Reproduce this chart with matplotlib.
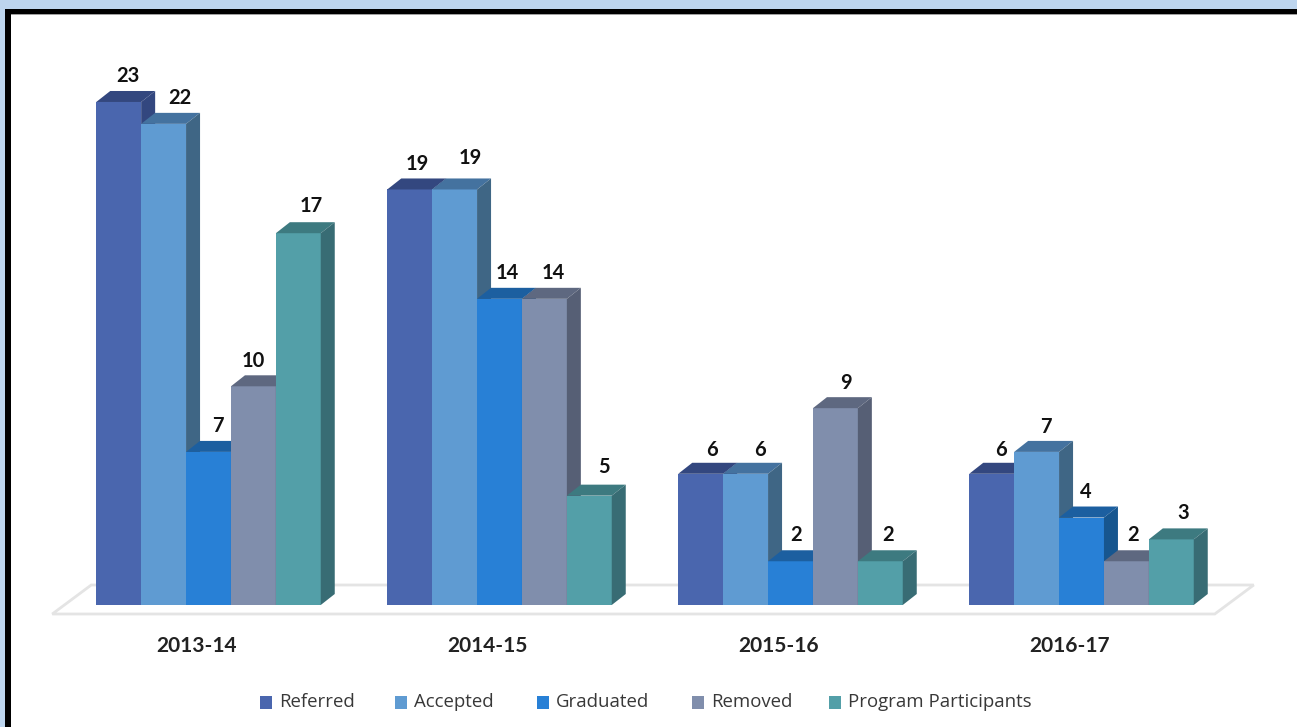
import matplotlib
matplotlib.use('Agg')
import matplotlib.pyplot as plt
from matplotlib.patches import Polygon, Rectangle

# Chart data
years = ['2013-14', '2014-15', '2015-16', '2016-17']
referred = [23, 19, 6, 6]
accepted = [22, 19, 6, 7]
graduated = [7, 14, 2, 4]
removed = [10, 14, 9, 2]
participants = [17, 5, 2, 3]

series_names = ['Referred', 'Accepted', 'Graduated', 'Removed', 'Program Participants']
series_values = [referred, accepted, graduated, removed, participants]

front_colors = ['#4A66AE', '#5F9BD2', '#2880D6', '#808EAC', '#539FA8']
top_colors = ['#33477F', '#44729F', '#1C5FA0', '#5E6880', '#3D7A80']
side_colors = ['#33477F', '#3F6685', '#17568F', '#565F75', '#386C74']

# Hand placed value labels, pixel nudges per series (rows) and group (columns)
label_dx = [[0, -1, 2, 0], [7, 7, 5, 0], [0, -1, -3, -5], [-9, 0, 2, -2], [4, 6, -1, 3]]
label_dy = [[2, 1, 0, 0], [2, 7, 0, 1], [2, 2, 2, 2], [1, 2, 1, 2], [3, 5, 2, 2]]

W, H = 1297, 727
BASE_PX = 605
UNIT_PX = 21.87
GROUP_PX = 291.0
FIRST_PX = 208.5

bar_w = 44.9 / GROUP_PX
depth_x = 14 / GROUP_PX
depth_y = 11 / UNIT_PX

fig = plt.figure(figsize=(W / 100, H / 100), dpi=100, facecolor='#BDD5EE')
plt.rcParams['font.family'] = ['Lato', 'DejaVu Sans']

# Axes fill the figure, group index on x and count on y
ax = fig.add_axes([0, 0, 1, 1])
ax.set_xlim(-FIRST_PX / GROUP_PX, (W - FIRST_PX) / GROUP_PX)
ax.set_ylim(-(H - BASE_PX) / UNIT_PX, BASE_PX / UNIT_PX)
ax.axis('off')


def px_x(p):
    return (p - FIRST_PX) / GROUP_PX


def px_y(p):
    return (BASE_PX - p) / UNIT_PX


# Frame
ax.add_patch(Rectangle((px_x(5), px_y(727)), px_x(1400) - px_x(5), px_y(9) - px_y(727),
                       facecolor='black', edgecolor='none', zorder=0))
ax.add_patch(Rectangle((px_x(11), px_y(727)), px_x(1400) - px_x(11), px_y(14) - px_y(727),
                       facecolor='#A0A0A0', edgecolor='none', zorder=0.05))
ax.add_patch(Rectangle((px_x(11), px_y(727)), px_x(1400) - px_x(11), px_y(15) - px_y(727),
                       facecolor='white', edgecolor='none', zorder=0.1))

# Floor
n_groups = len(years)
n_series = len(series_names)
floor_left = -2.5 * bar_w - 44 / GROUP_PX
floor_right = n_groups - 1 + 2.5 * bar_w + 21 / GROUP_PX
floor_front = -9 / UNIT_PX
floor_slant_x = 39 / GROUP_PX
floor_slant_y = 29 / UNIT_PX
ax.add_patch(Polygon([(floor_left, floor_front), (floor_right, floor_front),
                      (floor_right + floor_slant_x, floor_front + floor_slant_y),
                      (floor_left + floor_slant_x, floor_front + floor_slant_y)],
                     closed=True, facecolor='white', edgecolor='#E4E4E4', linewidth=2, zorder=0.2))

# Bars, left to right so that later bars cover the sides of earlier ones
z = 1
for g in range(n_groups):
    for s in range(n_series):
        val = series_values[s][g]
        x0 = g + (s - 2.5) * bar_w
        x1 = x0 + bar_w
        ax.bar(x0, val, width=bar_w, align='edge', color=front_colors[s], linewidth=0, zorder=z)
        ax.add_patch(Polygon([(x0, val), (x1, val), (x1 + depth_x, val + depth_y), (x0 + depth_x, val + depth_y)],
                             closed=True, facecolor=top_colors[s], edgecolor='none', zorder=z))
        ax.add_patch(Polygon([(x1, 0), (x1 + depth_x, depth_y), (x1 + depth_x, val + depth_y), (x1, val)],
                             closed=True, facecolor=side_colors[s], edgecolor='none', zorder=z))
        z += 1
        label_x = x0 + bar_w / 2 + (9 + label_dx[s][g]) / GROUP_PX
        label_y = val + depth_y + (3 + label_dy[s][g]) / UNIT_PX
        ax.text(label_x, label_y, str(val), ha='center', va='bottom', fontsize=14.5,
                fontweight='bold', color='#111111', zorder=200)

# Year labels
for g, year in enumerate(years):
    ax.text(g - 12 / GROUP_PX, px_y(646), year, ha='center', va='center',
            fontsize=15, fontweight='bold', color='#222222', zorder=200)

# Legend
legend_x = [260, 395, 537, 692, 829]
for name, color, lx in zip(series_names, front_colors, legend_x):
    ax.add_patch(Rectangle((px_x(lx), px_y(709)), 12 / GROUP_PX, 13 / UNIT_PX,
                           facecolor=color, edgecolor='none', zorder=200))
    ax.text(px_x(lx + 19), px_y(702), name, ha='left', va='center', family=['Open Sans', 'DejaVu Sans'],
            fontsize=13.4, color='#383838', zorder=200)

fig.savefig('out.png', dpi=100, facecolor=fig.get_facecolor())
